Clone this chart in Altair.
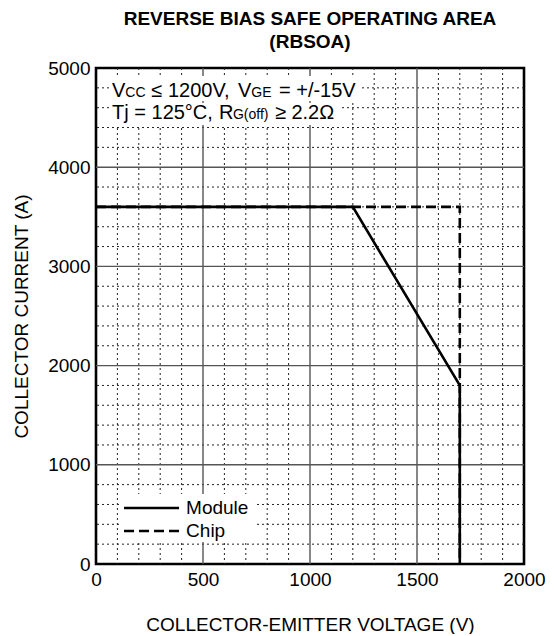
import altair as alt
import pandas as pd

FONT = "Liberation Sans"

# ---- data ----
module_v = [0, 1200, 1700, 1700]
module_i = [3600, 3600, 1800, 0]
chip_v = [0, 1700, 1700]
chip_i = [3600, 3600, 0]

x_ticks = [0, 500, 1000, 1500, 2000]
y_ticks = [0, 1000, 2000, 3000, 4000, 5000]
minor_x = [v for v in range(100, 2000, 100) if v % 500 != 0]
minor_y = [i for i in range(200, 5000, 200) if i % 1000 != 0]

# annotation text pieces (text, x in V, line baseline in A, font size)
ann_text = ["V", "CC", "≤", "1200V,", "V", "GE", "= +/-15V",
            "Tj = 125°C,", "R", "G(off)", "≥ 2.2Ω"]
ann_x = [75, 137, 257, 336, 664, 726, 855,
         75, 575, 640, 836]
ann_y = [4708] * 7 + [4486] * 4
ann_size = [20, 14, 20, 20, 20, 14, 20,
            20, 20, 14, 20]

# white masks behind annotations / legend
mask_x = [61, 61, 112]
mask_x2 = [1229, 1140, 752]
mask_y = [4919, 4647, 706]
mask_y2 = [4667, 4425, 222]

leg_labels = ["Module", "Chip"]
leg_y = [565, 333]
leg_x0 = [131, 131]
leg_x1 = [388, 388]
leg_tx = [421, 421]

X_TITLE = "COLLECTOR-EMITTER VOLTAGE (V)"
Y_TITLE = "COLLECTOR CURRENT (A)"


def X(field):
    return alt.X(field, type="quantitative",
                 scale=alt.Scale(domain=[0, 2000], nice=False, zero=False),
                 axis=alt.Axis(values=x_ticks, title=X_TITLE, labelFlush=False,
                               labelOverlap=False, format="d", titlePadding=26))


def Y(field):
    return alt.Y(field, type="quantitative",
                 scale=alt.Scale(domain=[0, 5000], nice=False, zero=False),
                 axis=alt.Axis(values=y_ticks, title=Y_TITLE, labelFlush=False,
                               labelOverlap=False, format="d", titlePadding=16))


minor_x_df = pd.DataFrame({"v": minor_x})
minor_y_df = pd.DataFrame({"i": minor_y})
major_x_df = pd.DataFrame({"v": x_ticks[1:-1]})
major_y_df = pd.DataFrame({"i": y_ticks[1:-1]})

grid_minor_x = alt.Chart(minor_x_df).mark_rule(
    color="#222", strokeWidth=1, strokeDash=[2, 3]).encode(x=X("v"))
grid_minor_y = alt.Chart(minor_y_df).mark_rule(
    color="#222", strokeWidth=1, strokeDash=[2, 3]).encode(y=Y("i"))
grid_major_x = alt.Chart(major_x_df).mark_rule(
    color="#555", strokeWidth=1.4).encode(x=X("v"))
grid_major_y = alt.Chart(major_y_df).mark_rule(
    color="#555", strokeWidth=1.4).encode(y=Y("i"))

mask_df = pd.DataFrame({"v": mask_x, "v2": mask_x2, "i": mask_y, "i2": mask_y2})
masks = alt.Chart(mask_df).mark_rect(color="white").encode(
    x=X("v"), x2=alt.X2("v2"), y=Y("i"), y2=alt.Y2("i2"))

chip_df = pd.DataFrame({"v": chip_v, "i": chip_i, "o": list(range(len(chip_v)))})
module_df = pd.DataFrame({"v": module_v, "i": module_i, "o": list(range(len(module_v)))})

chip_line = alt.Chart(chip_df).mark_line(
    color="black", strokeWidth=2.6, strokeDash=[10, 5]).encode(
    x=X("v"), y=Y("i"), order="o:Q")
module_line = alt.Chart(module_df).mark_line(
    color="black", strokeWidth=2.6).encode(
    x=X("v"), y=Y("i"), order="o:Q")

leg_df = pd.DataFrame({"lab": leg_labels, "i": leg_y, "v": leg_x0,
                       "v2": leg_x1, "tx": leg_tx})
leg_module = alt.Chart(leg_df.iloc[[0]]).mark_rule(
    color="black", strokeWidth=2.6).encode(x=X("v"), x2=alt.X2("v2"), y=Y("i"))
leg_chip = alt.Chart(leg_df.iloc[[1]]).mark_rule(
    color="black", strokeWidth=2.6, strokeDash=[10, 5]).encode(
    x=X("v"), x2=alt.X2("v2"), y=Y("i"))
leg_text = alt.Chart(leg_df).mark_text(
    align="left", baseline="middle", font=FONT, fontSize=19, color="black").encode(
    x=X("tx"), y=Y("i"), text="lab:N")

ann_df = pd.DataFrame({"t": ann_text, "v": ann_x, "i": ann_y, "fs": ann_size})
ann = alt.Chart(ann_df).mark_text(
    align="left", baseline="alphabetic", font=FONT, color="black").encode(
    x=X("v"), y=Y("i"), text="t:N", size=alt.Size("fs:Q", scale=None, legend=None))

chart = alt.layer(
    grid_minor_x, grid_minor_y, grid_major_x, grid_major_y, masks,
    chip_line, module_line, leg_module, leg_chip, leg_text, ann
).properties(
    width=428, height=496,
    padding={"left": 4, "top": 2, "right": 0, "bottom": 0},
    title=alt.TitleParams(
        text=["REVERSE BIAS SAFE OPERATING AREA", "(RBSOA)"],
        font=FONT, fontSize=19, fontWeight="bold", color="black",
        anchor="middle", frame="group", lineHeight=23, offset=7),
).configure_view(
    stroke="black", strokeWidth=2.6
).configure_axis(
    labelFont=FONT, titleFont=FONT, labelFontSize=19, titleFontSize=19,
    titleFontWeight="normal", labelColor="black", titleColor="black",
    ticks=False, domain=False, grid=False, labelPadding=6
)

chart.save("out.html", embed_options={"renderer": "svg", "actions": False})
